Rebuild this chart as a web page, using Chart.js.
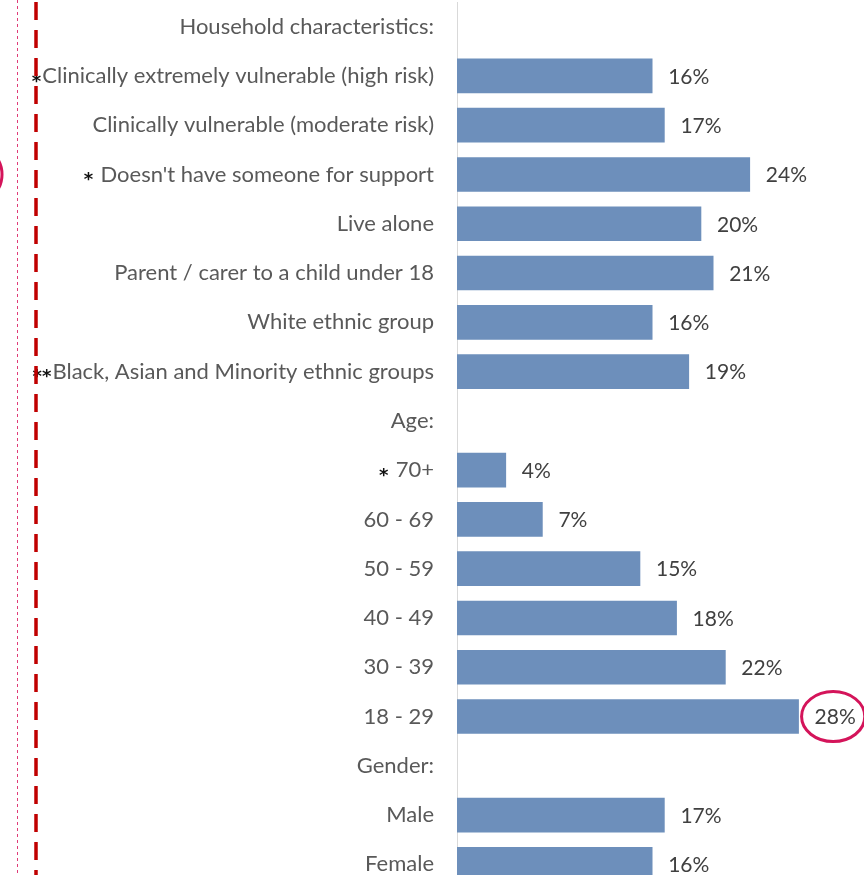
<!DOCTYPE html>
<html>
<head>
<meta charset="utf-8">
<script src="https://cdn.jsdelivr.net/npm/chart.js@4"></script>
<style>
  html, body { margin: 0; padding: 0; background: #fff; overflow: hidden; }
  #wrap { position: relative; width: 864px; height: 890px; }
</style>
</head>
<body>
<div id="wrap"><canvas id="chart"></canvas></div>
<script>
// group headings have no value (null) and no bar
const categories = [
    'Household characteristics:',
    'Clinically extremely vulnerable (high risk)',
    'Clinically vulnerable (moderate risk)',
    "Doesn't have someone for support",
    'Live alone',
    'Parent / carer to a child under 18',
    'White ethnic group',
    'Black, Asian and Minority ethnic groups',
    'Age:',
    '70+',
    '60 - 69',
    '50 - 59',
    '40 - 49',
    '30 - 39',
    '18 - 29',
    'Gender:',
    'Male',
    'Female'
];
const values = [null, 16, 17, 24, 20, 21, 16, 19, null, 4, 7, 15, 18, 22, 28, null, 17, 16];
// significance markers shown before some labels
const markers = ['', '*', '', '* ', '', '', '', '**', '', '* ', '', '', '', '', '', '', '', ''];

const FAMILY = 'Lato, "Noto Sans", sans-serif';
const TICK_FONT = '22px ' + FAMILY;
const VALUE_FONT = '21px ' + FAMILY;
const TICK_PAD = 23;

// value labels to the right of each bar
const barLabels = {
    id: 'barLabels',
    afterDatasetsDraw(chart) {
        const ctx = chart.ctx;
        const meta = chart.getDatasetMeta(0);
        ctx.save();
        ctx.font = VALUE_FONT;
        ctx.fillStyle = '#404040';
        ctx.textAlign = 'left';
        ctx.textBaseline = 'middle';
        meta.data.forEach((bar, i) => {
            if (values[i] == null) return;
            ctx.fillText(values[i] + '%', bar.x + 16, bar.y + 1);
        });
        ctx.restore();
    }
};

// asterisks, dashed guide lines and highlight rings
const extras = {
    id: 'extras',
    afterDraw(chart) {
        const ctx = chart.ctx;
        const yScale = chart.scales.y;
        const xScale = chart.scales.x;
        const labelRight = chart.chartArea.left - TICK_PAD;
        ctx.save();

        markers.forEach((m, i) => {
            if (!m) return;
            ctx.font = TICK_FONT;
            const w = ctx.measureText(categories[i]).width;
            ctx.font = 'bold 18px "DejaVu Sans", sans-serif';
            ctx.fillStyle = '#111';
            ctx.textAlign = 'right';
            ctx.textBaseline = 'middle';
            ctx.fillText(m, labelRight - w - 1, yScale.getPixelForValue(i) + 6);
        });

        const h = chart.height;
        // thin dotted line
        ctx.strokeStyle = '#e03c78';
        ctx.lineWidth = 1;
        ctx.setLineDash([3, 3]);
        ctx.beginPath();
        ctx.moveTo(17.5, 0);
        ctx.lineTo(17.5, h);
        ctx.stroke();
        // heavy dashed line
        ctx.strokeStyle = '#c00000';
        ctx.lineWidth = 3.5;
        ctx.setLineDash([18, 10]);
        ctx.beginPath();
        ctx.moveTo(36, 2);
        ctx.lineTo(36, h);
        ctx.stroke();
        ctx.setLineDash([]);

        // ring cut off at the left edge
        ctx.strokeStyle = '#d4145a';
        ctx.lineWidth = 3;
        ctx.beginPath();
        ctx.ellipse(-27, yScale.getPixelForValue(3), 29, 29, 0, 0, Math.PI * 2);
        ctx.stroke();

        // ring around the largest value label
        ctx.font = VALUE_FONT;
        const maxIdx = values.indexOf(Math.max(...values.filter(v => v != null)));
        const tw = ctx.measureText(values[maxIdx] + '%').width;
        const cx = xScale.getPixelForValue(values[maxIdx]) + 16 + tw / 2 - 2;
        ctx.lineWidth = 3;
        ctx.beginPath();
        ctx.ellipse(cx, yScale.getPixelForValue(maxIdx), tw / 2 + 11, 25, 0, 0, Math.PI * 2);
        ctx.stroke();

        ctx.restore();
    }
};

new Chart(document.getElementById('chart'), {
    type: 'bar',
    data: {
        labels: categories,
        datasets: [{
            data: values,
            backgroundColor: '#6d8fbb',
            borderWidth: 0,
            barThickness: 34
        }]
    },
    options: {
        indexAxis: 'y',
        responsive: true,
        maintainAspectRatio: false,
        animation: false,
        layout: { padding: { top: 2, bottom: 1, left: 0, right: 2 } },
        scales: {
            x: {
                display: false,
                min: 0,
                max: 33.2
            },
            y: {
                grid: { display: false, drawTicks: false, tickLength: 0 },
                border: { display: true, color: '#d9d9d9', width: 1 },
                ticks: {
                    padding: TICK_PAD,
                    color: '#595959',
                    font: { family: FAMILY, size: 22 }
                },
                afterFit(scale) {
                    scale.width = 457;
                    scale.paddingTop = 0;
                    scale.paddingBottom = 0;
                }
            }
        },
        plugins: {
            legend: { display: false },
            tooltip: { enabled: false }
        }
    },
    plugins: [barLabels, extras]
});
</script>
</body>
</html>
